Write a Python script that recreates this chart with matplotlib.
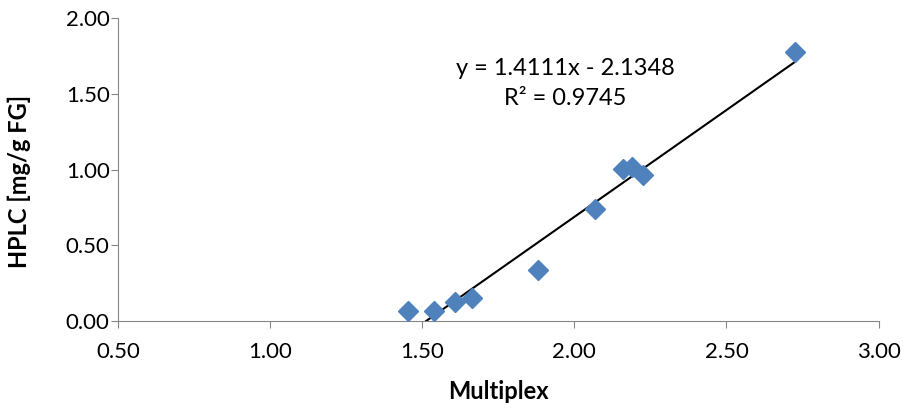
import numpy as np
import matplotlib
matplotlib.use("Agg")
import matplotlib.pyplot as plt

# data
multiplex = [1.454, 1.539, 1.609, 1.664, 1.882, 2.069, 2.161, 2.191, 2.227, 2.724]
hplc = [0.066, 0.066, 0.125, 0.152, 0.337, 0.739, 1.003, 1.016, 0.964, 1.776]
slope, intercept = 1.4111, -2.1348

plt.rcParams['font.family'] = ['Lato', 'DejaVu Sans']
fig = plt.figure(figsize=(9.05, 4.11), dpi=100)
ax = fig.add_axes([0.1304, 0.219, 0.8404, 0.737])

ax.plot(multiplex, hplc, 'D', color='#4F81BD', markersize=10, zorder=3)

# linear trendline, clipped at y = 0 like the Excel one
x0 = -intercept / slope
xt = np.array([x0, max(multiplex)])
ax.plot(xt, slope * xt + intercept, color='black', lw=1.5, zorder=2)

ax.set_xlim(0.5, 3.0)
ax.set_ylim(0, 2.0)
ax.set_xticks(np.arange(0.5, 3.01, 0.5))
ax.set_yticks(np.arange(0, 2.01, 0.5))
ax.xaxis.set_major_formatter(plt.FormatStrFormatter('%.2f'))
ax.yaxis.set_major_formatter(plt.FormatStrFormatter('%.2f'))
for s in ['top', 'right']:
    ax.spines[s].set_visible(False)
for s in ['left', 'bottom']:
    ax.spines[s].set_color('#868686')
ax.tick_params(colors='#868686', labelcolor='black', labelsize=16, length=5, direction='out')
ax.tick_params(axis='x', pad=10)
ax.tick_params(axis='y', pad=1)

ax.set_xlabel('Multiplex', fontsize=17, fontweight='bold', labelpad=13)
ax.set_ylabel('HPLC [mg/g FG]', fontsize=17, fontweight='bold', labelpad=12)
ax.yaxis.set_label_coords(-0.115, 0.46)

ax.text(1.97, 1.67, 'y = 1.4111x - 2.1348', fontsize=17, ha='center', va='center')
ax.text(1.97, 1.47, 'R² = 0.9745', fontsize=17, ha='center', va='center')

fig.savefig('out.png', dpi=100)
